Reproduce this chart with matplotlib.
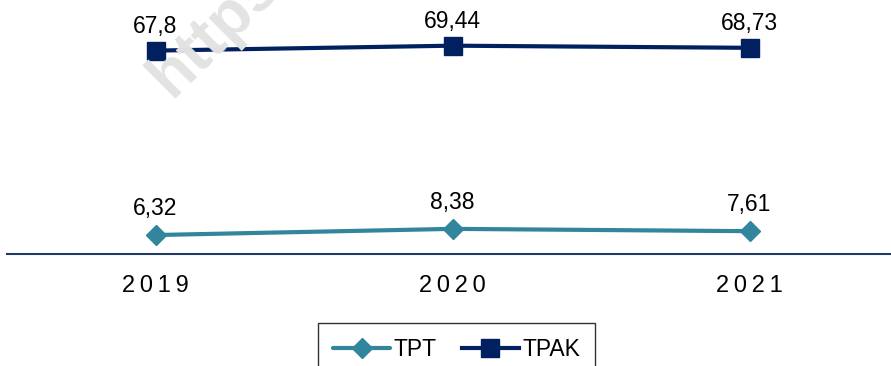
import matplotlib
matplotlib.use("Agg")
import matplotlib.pyplot as plt

years = ["2019", "2020", "2021"]
tpt = [6.32, 8.38, 7.61]
tpak = [67.8, 69.44, 68.73]
tpt_labels = ["6,32", "8,38", "7,61"]
tpak_labels = ["67,8", "69,44", "68,73"]

plt.rcParams['font.family'] = ["Liberation Sans", 'DejaVu Sans']

fig = plt.figure(figsize=(8.91, 3.66), dpi=100)
ax = fig.add_axes([7 / 891, 112 / 366, 891 / 891, 240 / 366])

# watermark
fig.text(138 / 891, 1 - 108 / 366, "https://", rotation=45, fontsize=46,
         fontweight="bold", color="#e3e3e3", ha="left", va="bottom",
         zorder=0)

x = range(len(years))
ax.plot(x, tpt, color="#31859C", lw=3, marker="D", markersize=10,
        label="TPT", solid_capstyle="round")
ax.plot(x, tpak, color="#002060", lw=3, marker="s", markersize=13,
        label="TPAK")

for i in x:
    ax.annotate(tpt_labels[i], (i, tpt[i]), xytext=(0, 11), textcoords="offset points",
                ha="center", va="bottom", fontsize=16.5)
    ax.annotate(tpak_labels[i], (i, tpak[i]), xytext=(0, 9), textcoords="offset points",
                ha="center", va="bottom", fontsize=16.5)

ax.set_xlim(-0.5, 2.5)
ax.set_ylim(0, 80)
ax.patch.set_alpha(0)
for s in ["top", "right", "left"]:
    ax.spines[s].set_visible(False)
ax.spines["bottom"].set_color("#1f3864")
ax.spines["bottom"].set_linewidth(1.5)
ax.set_yticks([])
ax.set_xticks(list(x))
ax.set_xticklabels(["\u2009".join(y) for y in years], fontsize=17)
ax.tick_params(axis="x", length=0, pad=15)

leg = fig.legend(loc="upper left", bbox_to_anchor=(318 / 891, 1 - 323 / 366),
                 ncol=2, fontsize=16.5, frameon=True, fancybox=False,
                 handlelength=2.5, columnspacing=1.1, handletextpad=0.15,
                 borderpad=0.65, borderaxespad=0)
leg.get_frame().set_edgecolor("black")
leg.get_frame().set_linewidth(1)

fig.savefig("out.png", dpi=100)
